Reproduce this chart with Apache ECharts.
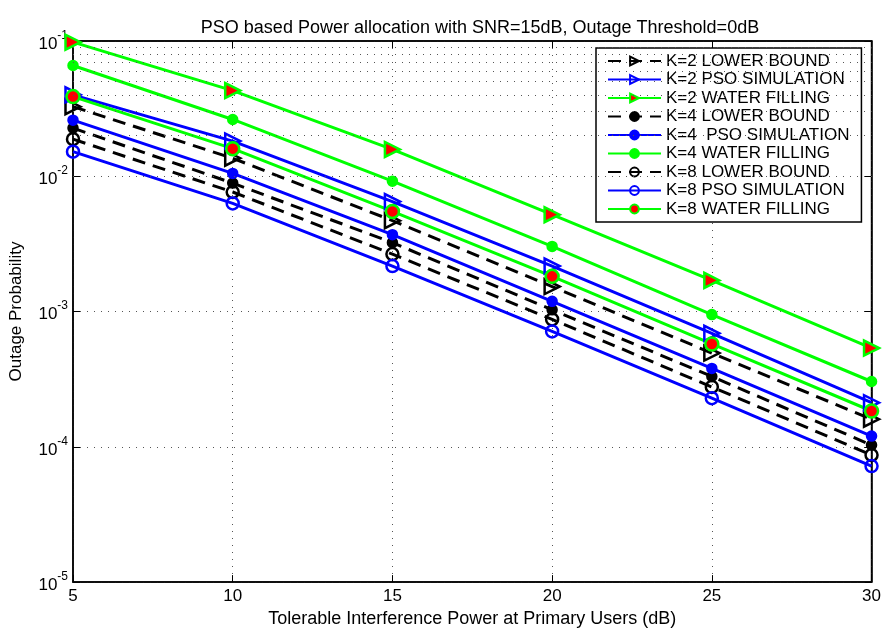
<!DOCTYPE html>
<html>
<head>
<meta charset="utf-8">
<script src="https://cdn.jsdelivr.net/npm/echarts@6/dist/echarts.min.js"></script>
<style>html,body{margin:0;padding:0;background:#fff;}#c{width:884px;height:633px;}</style>
</head>
<body>
<div id="c"></div>
<script>
var xVals = [5, 10, 15, 20, 25, 30];
var xTicks = [5, 10, 15, 20, 25, 30];
var yTickExponents = [-5, -4, -3, -2, -1];
var k2Lower = [0.0327, 0.0136, 0.0047, 0.00153, 0.000493, 0.00016];
var k2Pso   = [0.040, 0.0182, 0.0065, 0.00217, 0.00069, 0.000212];
var k2Water = [0.098, 0.043, 0.0158, 0.0052, 0.0017, 0.000537];
var k4Lower = [0.0227, 0.0089, 0.00323, 0.00103, 0.000331, 0.000103];
var k4Pso   = [0.026, 0.0105, 0.0037, 0.00119, 0.00038, 0.00012];
var k4Water = [0.0659, 0.0263, 0.0092, 0.00303, 0.00095, 0.000304];
var k8Lower = [0.0188, 0.00765, 0.00266, 0.000875, 0.000277, 0.000087];
var k8Pso   = [0.0152, 0.0063, 0.00217, 0.000713, 0.000229, 0.000072];
var k8Water = [0.0388, 0.016, 0.0055, 0.00182, 0.000576, 0.000184];
var names = ['K=2 LOWER BOUND','K=2 PSO SIMULATION','K=2 WATER FILLING','K=4 LOWER BOUND','K=4  PSO SIMULATION','K=4 WATER FILLING','K=8 LOWER BOUND','K=8 PSO SIMULATION','K=8 WATER FILLING'];

var FONT = 'Liberation Sans';
function pairs(arr){ return xVals.map(function(x,i){ return [x, arr[i]]; }); }

var minorVals = [];
for (var e = yTickExponents[0]; e < yTickExponents[yTickExponents.length-1]; e++) {
  for (var m = 2; m <= 9; m++) minorVals.push(m * Math.pow(10, e));
}

var BLACK = '#000000', BLUE = '#0000ff', GREEN = '#00ff00', RED = '#ff0000';
function mk(name, data, lineColor, dashed, symbol, size, fill, border, rotate){
  return {
    name: name, type: 'line', data: pairs(data), xAxisIndex: 0, yAxisIndex: 0,
    symbol: symbol, symbolSize: size, symbolRotate: rotate || 0,
    lineStyle: {color: lineColor, width: 3, type: dashed ? [13, 8] : 'solid'},
    itemStyle: {color: fill, borderColor: border, borderWidth: 2.5},
    emphasis: {disabled: true},
    z: 3
  };
}

var series = [
  mk(names[0], k2Lower, BLACK, true, 'triangle', 15, 'rgba(255,255,255,0)', BLACK, -90),
  mk(names[1], k2Pso, BLUE, false, 'triangle', 15, 'rgba(255,255,255,0)', BLUE, -90),
  mk(names[2], k2Water, GREEN, false, 'triangle', 15, RED, GREEN, -90),
  mk(names[3], k4Lower, BLACK, true, 'circle', 9, BLACK, BLACK),
  mk(names[4], k4Pso, BLUE, false, 'circle', 9, BLUE, BLUE),
  mk(names[5], k4Water, GREEN, false, 'circle', 9, GREEN, GREEN),
  mk(names[6], k8Lower, BLACK, true, 'circle', 12, 'rgba(255,255,255,0)', BLACK),
  mk(names[7], k8Pso, BLUE, false, 'circle', 12, 'rgba(255,255,255,0)', BLUE),
  mk(names[8], k8Water, GREEN, false, 'circle', 13, RED, GREEN)
];
series[0].markLine = {
  silent: true, symbol: 'none', label: {show: false}, animation: false,
  lineStyle: {color: '#555', type: [1, 6], width: 1},
  data: minorVals.map(function(v){ return {yAxis: v}; })
};

var gridLine = {show: true, lineStyle: {color: '#555', type: [1, 6], width: 1}};
var yMin = Math.pow(10, yTickExponents[0]), yMax = Math.pow(10, yTickExponents[yTickExponents.length-1]);

var chart = echarts.init(document.getElementById('c'), null, {renderer: 'canvas'});
chart.setOption({
  animation: false,
  backgroundColor: '#ffffff',
  title: {
    text: 'PSO based Power allocation with SNR=15dB, Outage Threshold=0dB',
    left: 475, top: 14, textAlign: 'center',
    textStyle: {fontFamily: FONT, fontSize: 18, fontWeight: 'normal', color: '#000'}
  },
  grid: {left: 73, right: 9, top: 41, bottom: 40, show: true, borderColor: '#000', borderWidth: 1.5, backgroundColor: 'transparent'},
  legend: {
    data: names, orient: 'vertical', left: 596, top: 48,
    itemWidth: 53, itemHeight: 11, itemGap: 0.5,
    padding: [4, 12, 4, 11],
    backgroundColor: '#ffffff', borderColor: '#000', borderWidth: 1.5,
    textStyle: {fontFamily: FONT, fontSize: 17, lineHeight: 18, color: '#000'},
    selectedMode: false
  },
  xAxis: [{
    type: 'value', min: xTicks[0], max: xTicks[xTicks.length-1], interval: 5,
    name: 'Tolerable Interference Power at Primary Users (dB)',
    nameLocation: 'middle', nameGap: 24,
    nameTextStyle: {fontFamily: FONT, fontSize: 18, color: '#000'},
    axisLine: {lineStyle: {color: '#000', width: 1.5}},
    axisTick: {inside: true, length: 7, lineStyle: {color: '#000'}},
    axisLabel: {fontFamily: FONT, fontSize: 17, color: '#000', margin: 6},
    splitLine: gridLine
  }, {
    type: 'value', position: 'top', min: xTicks[0], max: xTicks[xTicks.length-1], interval: 5,
    axisLine: {lineStyle: {color: '#000', width: 1.5}},
    axisTick: {inside: true, length: 7, lineStyle: {color: '#000'}},
    axisLabel: {show: false}, splitLine: {show: false}
  }],
  yAxis: [{
    type: 'log', logBase: 10, min: yMin, max: yMax,
    name: 'Outage Probability', nameLocation: 'middle', nameGap: 48,
    nameTextStyle: {fontFamily: FONT, fontSize: 17, color: '#000'},
    axisLine: {lineStyle: {color: '#000', width: 1.5}},
    axisTick: {inside: true, length: 7, lineStyle: {color: '#000'}},
    axisLabel: {
      margin: 5,
      formatter: function(v){ var ex = Math.round(Math.log10(v)); return '{b|10}{s|' + ex + '}'; },
      rich: {
        b: {fontFamily: FONT, fontSize: 17, color: '#000', verticalAlign: 'bottom'},
        s: {fontFamily: FONT, fontSize: 12, color: '#000', verticalAlign: 'top', padding: [0, 0, 11, 0]}
      }
    },
    splitLine: gridLine
  }, {
    type: 'log', logBase: 10, min: yMin, max: yMax, position: 'right',
    axisLine: {lineStyle: {color: '#000', width: 1.5}},
    axisTick: {inside: true, length: 7, lineStyle: {color: '#000'}},
    axisLabel: {show: false}, splitLine: {show: false}
  }],
  series: series
});
</script>
</body>
</html>
